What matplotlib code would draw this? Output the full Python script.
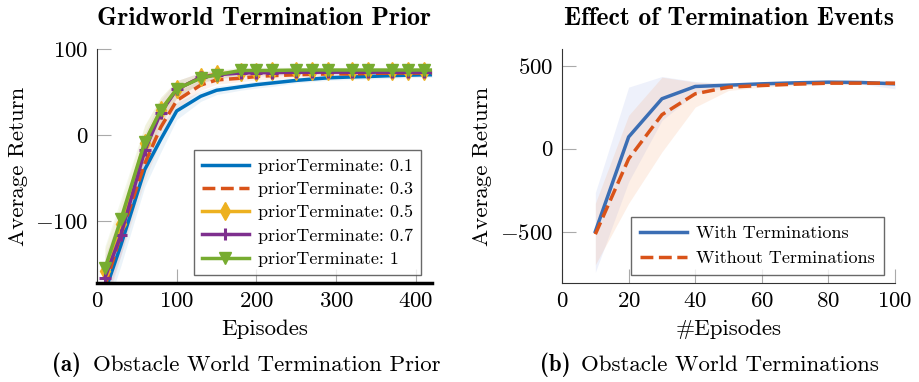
import numpy as np
from matplotlib import pyplot as plt

plt.rcParams["font.family"] = ["cmr10", "DejaVu Serif"]
plt.rcParams["mathtext.fontset"] = "cm"
plt.rcParams["axes.formatter.use_mathtext"] = True
plt.rcParams["axes.unicode_minus"] = True

# ---- left panel: termination prior sweep
ep_a = [10, 30, 60, 80, 100, 130, 150, 180, 200, 220, 250, 270, 290, 320, 340, 370, 390, 410, 420]
prior_labels = ["priorTerminate: 0.1", "priorTerminate: 0.3", "priorTerminate: 0.5",
                "priorTerminate: 0.7", "priorTerminate: 1"]
ret_01 = [-182, -128, -40, -5, 28, 45, 52, 56, 58.5, 60.5, 63.5, 65, 66.5, 67.5, 68, 69, 69.5, 70, 70]
ret_03 = [-176, -116, -33, 9, 40, 58, 64, 66, 68, 69, 70, 70.5, 71, 71, 71.5, 72, 72, 72, 72]
ret_05 = [-158, -104, -9, 29, 53, 67, 71, 73, 73.5, 74, 74, 74, 74, 74, 74, 74, 74, 74, 74]
ret_07 = [-166, -116, -18, 26, 53, 67, 70, 72, 72.5, 72.5, 73, 73, 73, 73, 73, 73, 73, 73, 73]
ret_1 = [-155, -98, -8, 29, 53.5, 66, 70, 75, 75, 75, 75.5, 75.5, 75.5, 75.5, 75.5, 75.5, 75.5, 75.5, 75.5]
spread_a = [26, 24, 20, 15, 10, 6, 5, 4, 4, 4, 3, 3, 3, 3, 3, 3, 3, 3, 3]

# ---- right panel: with / without terminations
ep_b = [10, 20, 30, 40, 50, 60, 70, 80, 90, 100]
with_term = [-500, 70, 300, 374, 382, 390, 396, 400, 398, 390]
with_lo = [-746, -200, 170, 330, 370, 380, 388, 392, 388, 360]
with_hi = [-266, 370, 434, 404, 392, 398, 404, 408, 410, 412]
without_term = [-516, -62, 204, 330, 370, 380, 388, 394, 394, 394]
without_lo = [-700, -330, -20, 250, 350, 370, 380, 385, 386, 384]
without_hi = [-330, 200, 430, 400, 390, 392, 396, 402, 402, 404]

colors_a = ["#0072BD", "#D95319", "#EDB120", "#7E2F8E", "#77AC30"]
markers_a = [None, None, "d", "+", "v"]
styles_a = ["-", "--", "-", "-", "-"]

fig = plt.figure(figsize=(9.2, 3.82), dpi=100)
ax1 = fig.add_axes([0.1054, 0.2592, 0.3641, 0.6126])
ax2 = fig.add_axes([0.6109, 0.2592, 0.362, 0.6126])

series_a = [ret_01, ret_03, ret_05, ret_07, ret_1]
x_a = np.array(ep_a)
for vals, lab, col, mk, ls in zip(series_a, prior_labels, colors_a, markers_a, styles_a):
    y = np.array(vals)
    sp = np.array(spread_a)
    ax1.fill_between(x_a, y - sp, y + sp, color=col, alpha=0.08, lw=0)
    ax1.plot(x_a, y, color=col, ls=ls, lw=2.5, label=lab, marker=mk,
             markevery=slice(0, -1), markersize=9, markeredgewidth=2.2 if mk == "+" else 1.0)

bold_cm = ["cmb10", "DejaVu Serif"]

ax1.set_xlim(0, 420)
ax1.set_ylim(-172, 100)
ax1.set_xticks([0, 100, 200, 300, 400])
ax1.set_yticks([-100, 0, 100])
ax1.set_title("Gridworld Termination Prior", fontfamily=bold_cm, fontsize=18.5, pad=17)
ax1.set_xlabel("Episodes", fontsize=16.5, labelpad=6)
ax1.set_ylabel("Average Return", fontsize=16.5, labelpad=5)
leg = ax1.legend(loc="lower right", fontsize=13, frameon=True, fancybox=False,
                 edgecolor="#444444", handlelength=2.6, handletextpad=0.5,
                 borderpad=0.45, labelspacing=0.42, borderaxespad=0,
                 bbox_to_anchor=(0.967, 0.034))
leg.get_frame().set_linewidth(1.0)

# right panel
ax2.fill_between(ep_b, with_lo, with_hi, color="#8fa3e8", alpha=0.15, lw=0)
ax2.fill_between(ep_b, without_lo, without_hi, color="#f5a878", alpha=0.18, lw=0)
ax2.plot(ep_b, with_term, color="#3b6eb4", lw=2.5, label="With Terminations")
ax2.plot(ep_b, without_term, color="#D95319", lw=2.5, ls="--", label="Without Terminations")
ax2.set_xlim(0, 100)
ax2.set_ylim(-810, 600)
ax2.set_xticks([0, 20, 40, 60, 80, 100])
ax2.set_yticks([-500, 0, 500])
ax2.set_title("Effect of Termination Events", fontfamily=bold_cm, fontsize=18.5, pad=17)
ax2.set_xlabel("#Episodes", fontsize=16.5, labelpad=6)
ax2.set_ylabel("Average Return", fontsize=16.5, labelpad=6)
leg2 = ax2.legend(loc="lower right", fontsize=13, frameon=True, fancybox=False,
                  edgecolor="#444444", handlelength=2.6, handletextpad=0.5,
                  borderpad=0.5, labelspacing=0.5, borderaxespad=0,
                  bbox_to_anchor=(0.967, 0.034))
leg2.get_frame().set_linewidth(1.0)

for ax in (ax1, ax2):
    ax.spines["top"].set_visible(False)
    ax.spines["right"].set_visible(False)
    ax.spines["left"].set_color("#333333")
    ax.spines["bottom"].set_color("#333333")
    ax.tick_params(direction="in", length=10, width=0.8, color="#aaaaaa",
                   labelsize=16.5, pad=6)
ax1.spines["bottom"].set_color("black")
ax1.spines["bottom"].set_linewidth(2.5)

fig.text(0.057, 0.03, "(a)", fontfamily=bold_cm, fontsize=16.5)
fig.text(0.101, 0.03, "Obstacle World Termination Prior", fontsize=16.5)
fig.text(0.587, 0.03, "(b)", fontfamily=bold_cm, fontsize=16.5)
fig.text(0.631, 0.03, "Obstacle World Terminations", fontsize=16.5)

fig.savefig("out.png", dpi=100)
